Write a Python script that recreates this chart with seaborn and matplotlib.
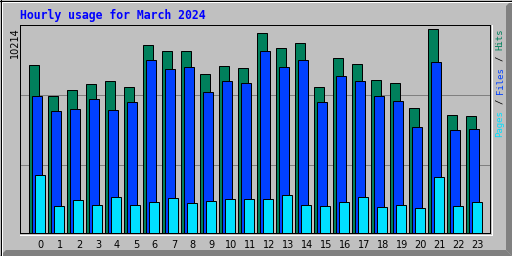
import numpy as np
import pandas as pd
import matplotlib
matplotlib.use("Agg")
import matplotlib.pyplot as plt
from matplotlib.patches import Polygon
import seaborn as sns

hours = list(range(24))
hits = [8403, 6893, 7195, 7447, 7598, 7346, 9409, 9107, 9107, 7950, 8352, 8252,
        10013, 9258, 9510, 7346, 8755, 8453, 7648, 7497, 6289, 10214, 5937, 5887]
files = [6893, 6139, 6239, 6742, 6189, 6591, 8654, 8201, 8302, 7094, 7598, 7497,
         9107, 8302, 8654, 6591, 7849, 7598, 6893, 6642, 5333, 8553, 5182, 5233]
pages = [2918, 1359, 1660, 1409, 1811, 1409, 1560, 1761, 1509, 1610, 1711, 1711,
         1711, 1912, 1409, 1359, 1560, 1811, 1308, 1409, 1258, 2818, 1359, 1560]
title = "Hourly usage for March 2024"
max_label = "10214"

C_HITS = "#00805C"
C_FILES = "#0040FF"
C_PAGES = "#00E0FF"
BG = "#C0C0C0"

W, H = 512, 256
fig = plt.figure(figsize=(W / 100, H / 100), dpi=100, facecolor=BG)

# background / bevel layer in pixel coords
bg = fig.add_axes([0, 0, 1, 1], zorder=-5)
bg.set_xlim(0, W)
bg.set_ylim(H, 0)
bg.axis("off")
bg.add_patch(Polygon([(W - 6, 6), (W, 0), (W, H), (W - 6, H - 6)],
                     closed=True, facecolor="#808080", edgecolor="none"))
bg.add_patch(Polygon([(6, H - 6), (W - 6, H - 6), (W, H), (0, H)],
                     closed=True, facecolor="#808080", edgecolor="none"))
lw1 = 0.72
bg.plot([1, W - 1], [1.5, 1.5], color="white", lw=lw1)
bg.plot([1.5, 1.5], [1, H - 1], color="white", lw=lw1)
bg.plot([0, W], [0.5, 0.5], color="black", lw=lw1)
bg.plot([0.5, 0.5], [0, H - 1], color="black", lw=lw1)
# white highlight around plot area (bottom / right)
bg.plot([491.5, 491.5], [25, 234.5], color="white", lw=lw1)
bg.plot([20, 491.5], [234.5, 234.5], color="white", lw=lw1)

# main axes
L, R, T, B = 20, 490, 25, 233
ax = fig.add_axes([L / W, (H - B) / H, (R - L) / W, (B - T) / H], facecolor=BG)

off = 3 / 19
bw = 10 / 19
df = pd.DataFrame({"hour": hours, "hits": hits, "files": files, "pages": pages})
for col, color, shift in [("hits", C_HITS, -off), ("files", C_FILES, 0.0), ("pages", C_PAGES, off)]:
    sns.barplot(x=df["hour"] + shift, y=df[col], ax=ax, native_scale=True,
                width=bw, color=color, saturation=1, edgecolor="black",
                linewidth=lw1, errorbar=None, zorder=3)

ax.set_xlim((L - 37.3) / 19, (R - 37.3) / 19)
ymax = 10430
ax.set_ylim(0, ymax)
ax.set_yticks([3394, 6904])
ax.set_yticklabels([])
ax.grid(axis="y", color="#808080", lw=lw1, zorder=0)
ax.grid(axis="x", visible=False)
ax.set_axisbelow(True)
ax.set_xticks(np.array(hours) + 0.19)
ax.set_xticklabels([str(h) for h in hours], fontsize=7, family="DejaVu Sans")
ax.tick_params(axis="both", length=0)
ax.tick_params(axis="x", pad=5)
ax.set_xlabel("")
ax.set_ylabel("")
for s in ax.spines.values():
    s.set_color("black")
    s.set_linewidth(lw1)

# texts in pixel coords
def fx(px):
    return px / W

def fy(py):
    return 1 - py / H

fig.text(fx(20), fy(19.5), title, color="#0000FF", fontsize=8.3,
         family="DejaVu Sans Mono", fontweight="bold", ha="left", va="baseline")
fig.text(fx(15), fy(27), max_label, color="black", fontsize=7,
         family="DejaVu Sans", rotation=90, ha="center", va="top")

fs = 6.5
cw = 0.602 * fs * 100 / 72  # px per character
y0 = 137
pieces = [("Pages", C_PAGES, 0), ("/", "black", 6), ("Files", C_FILES, 8),
          ("/", "black", 14), ("Hits", C_HITS, 16)]
for txt, col, n in pieces:
    fig.text(fx(500), fy(y0 - n * cw), txt, color=col, fontsize=fs,
             family="DejaVu Sans Mono", rotation=90, ha="center", va="bottom")

fig.savefig("out.png", dpi=100, facecolor=BG)
